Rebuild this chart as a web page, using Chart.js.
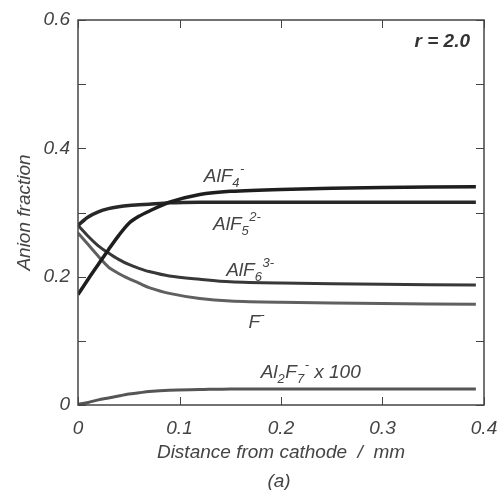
<!DOCTYPE html>
<html>
<head>
<meta charset="utf-8">
<script src="https://cdn.jsdelivr.net/npm/chart.js@4/dist/chart.umd.min.js"></script>
<style>
  html, body { margin: 0; padding: 0; background: #fff; }
  #wrap { width: 499px; height: 490px; position: relative; }
</style>
</head>
<body>
<div id="wrap"><canvas id="grafico"></canvas></div>
<script>
// distância ao cátodo (mm)
const distancia = [0, 0.01, 0.02, 0.03, 0.04, 0.05, 0.06, 0.07, 0.09, 0.12, 0.15, 0.2, 0.3, 0.392];

// fracções aniónicas
const alf4   = [0.172, 0.196, 0.219, 0.242, 0.264, 0.283, 0.294, 0.302, 0.316, 0.328, 0.333, 0.336, 0.339, 0.340];
const alf5   = [0.280, 0.293, 0.301, 0.306, 0.309, 0.311, 0.312, 0.313, 0.315, 0.316, 0.316, 0.316, 0.316, 0.316];
const alf6   = [0.280, 0.263, 0.248, 0.237, 0.227, 0.219, 0.213, 0.208, 0.201, 0.196, 0.192, 0.190, 0.188, 0.187];
const fMenos = [0.268, 0.250, 0.232, 0.215, 0.205, 0.197, 0.190, 0.183, 0.174, 0.166, 0.162, 0.160, 0.158, 0.157];
const al2f7  = [0.001, 0.004, 0.008, 0.011, 0.014, 0.017, 0.019, 0.021, 0.023, 0.024, 0.025, 0.025, 0.025, 0.025];

const ticksX = [0, 0.1, 0.2, 0.3, 0.4];
const ticksY = [0, 0.1, 0.2, 0.3, 0.4, 0.5, 0.6];
const rotulosY = [0, 0.2, 0.4, 0.6];

const corTexto = '#444';
const fonte = '"Liberation Sans", Arial, sans-serif';

function pontos(ys) {
    return distancia.map((x, i) => ({ x: x, y: ys[i] }));
}

function serie(ys, cor, largura) {
    return {
        data: pontos(ys),
        borderColor: cor,
        borderWidth: largura,
        pointRadius: 0,
        fill: false,
        tension: 0.3
    };
}

// escreve texto com índices (sub) e expoentes (sup)
function escreverQuimica(ctx, x, y, partes) {
    let cx = x;
    partes.forEach(p => {
        let tam = 19, dy = 0;
        if (p.t === 'sub') { tam = 13; dy = 5; }
        if (p.t === 'sup') { tam = 13; dy = -9; }
        ctx.font = 'italic ' + tam + 'px ' + fonte;
        ctx.fillText(p.s, cx, y + dy);
        cx += ctx.measureText(p.s).width + (p.t === 'sub' ? 0.5 : 0);
    });
}

const rotulos = [
    { x: 0.124, y: 0.347, partes: [{ s: 'AlF' }, { s: '4', t: 'sub' }, { s: '-', t: 'sup' }] },
    { x: 0.133, y: 0.272, partes: [{ s: 'AlF' }, { s: '5', t: 'sub' }, { s: '2-', t: 'sup' }] },
    { x: 0.146, y: 0.201, partes: [{ s: 'AlF' }, { s: '6', t: 'sub' }, { s: '3-', t: 'sup' }] },
    { x: 0.168, y: 0.120, partes: [{ s: 'F' }, { s: '-', t: 'sup' }] },
    { x: 0.180, y: 0.042, partes: [{ s: 'Al' }, { s: '2', t: 'sub' }, { s: 'F' }, { s: '7', t: 'sub' }, { s: '-', t: 'sup' }, { s: ' x 100' }] }
];

// moldura, marcas internas e textos
const pluginDesenho = {
    id: 'desenho',
    afterDraw(chart) {
        const ctx = chart.ctx;
        const a = chart.chartArea;
        const sx = chart.scales.x, sy = chart.scales.y;
        ctx.save();
        ctx.strokeStyle = '#444';
        ctx.lineWidth = 1.5;
        ctx.strokeRect(a.left, a.top, a.right - a.left, a.bottom - a.top);

        ctx.lineWidth = 1;
        ticksY.forEach(v => {
            const py = Math.round(sy.getPixelForValue(v)) + 0.5;
            ctx.beginPath();
            ctx.moveTo(a.left, py); ctx.lineTo(a.left + 8, py);
            ctx.moveTo(a.right, py); ctx.lineTo(a.right - 8, py);
            ctx.stroke();
        });
        ticksX.forEach(v => {
            const px = Math.round(sx.getPixelForValue(v)) + 0.5;
            ctx.beginPath();
            ctx.moveTo(px, a.bottom); ctx.lineTo(px, a.bottom - 8);
            ctx.moveTo(px, a.top); ctx.lineTo(px, a.top + 8);
            ctx.stroke();
        });

        ctx.fillStyle = corTexto;
        ctx.textBaseline = 'alphabetic';
        ctx.textAlign = 'left';
        rotulos.forEach(r => {
            escreverQuimica(ctx, sx.getPixelForValue(r.x), sy.getPixelForValue(r.y), r.partes);
        });

        ctx.fillStyle = '#333';
        ctx.font = 'italic bold 19px ' + fonte;
        ctx.textAlign = 'right';
        ctx.textBaseline = 'middle';
        ctx.fillText('r = 2.0', a.right - 14, 42);

        ctx.fillStyle = corTexto;
        ctx.font = 'italic 19px ' + fonte;
        ctx.textAlign = 'center';
        ctx.fillText('Distance from cathode  /  mm', (a.left + a.right) / 2, 453);
        ctx.fillText('(a)', (a.left + a.right) / 2 - 2, 482);

        ctx.translate(25, (a.top + a.bottom) / 2);
        ctx.rotate(-Math.PI / 2);
        ctx.fillText('Anion fraction', 0, 0);
        ctx.restore();
    }
};

function rotuloTick(v) {
    const r = Math.round(v * 10);
    if (r === 0) return '0';
    return (r / 10).toFixed(1);
}

new Chart(document.getElementById('grafico'), {
    type: 'line',
    data: {
        datasets: [
            serie(alf4, '#1e1e1e', 3.5),
            serie(alf5, '#282828', 3.5),
            serie(alf6, '#383838', 3),
            serie(fMenos, '#606060', 3),
            serie(al2f7, '#555', 3)
        ]
    },
    options: {
        responsive: true,
        maintainAspectRatio: false,
        animation: false,
        layout: { autoPadding: false, padding: { top: 20, right: 15, left: 0, bottom: 0 } },
        plugins: { legend: { display: false }, tooltip: { enabled: false } },
        scales: {
            x: {
                type: 'linear',
                min: 0, max: 0.4,
                grid: { display: false, drawTicks: false },
                border: { display: false },
                afterFit(scale) {
                    scale.height = 85;
                    scale.paddingLeft = 0;
                    scale.paddingRight = 0;
                },
                afterBuildTicks(scale) { scale.ticks = ticksX.map(v => ({ value: v })); },
                ticks: {
                    padding: 12,
                    maxRotation: 0,
                    color: corTexto,
                    font: { family: fonte, size: 19, style: 'italic' },
                    callback: rotuloTick
                }
            },
            y: {
                min: 0, max: 0.6,
                grid: { display: false, drawTicks: false },
                border: { display: false },
                afterFit(scale) {
                    scale.width = 78;
                    scale.paddingTop = 0;
                    scale.paddingBottom = 0;
                },
                afterBuildTicks(scale) { scale.ticks = rotulosY.map(v => ({ value: v })); },
                ticks: {
                    padding: 8,
                    color: corTexto,
                    font: { family: fonte, size: 19, style: 'italic' },
                    callback: rotuloTick
                }
            }
        }
    },
    plugins: [pluginDesenho]
});
</script>
</body>
</html>
